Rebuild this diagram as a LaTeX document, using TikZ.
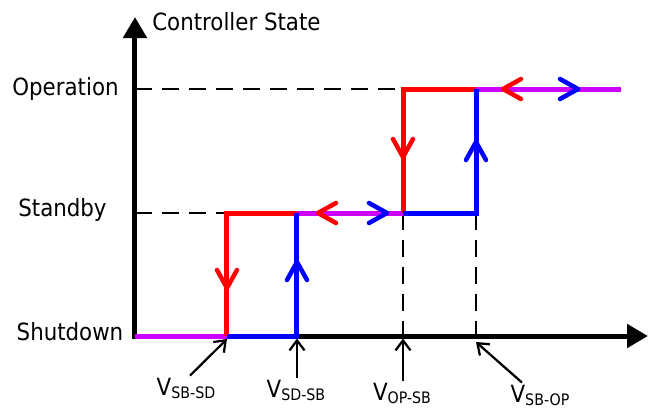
\documentclass[tikz,border=0pt]{standalone}
\usepackage{fontspec}
\setmainfont{DejaVu Sans Condensed}
\usetikzlibrary{arrows.meta}
\definecolor{statepurple}{RGB}{204,0,255}
\newcommand{\vlab}[1]{V\raisebox{-1.8pt}{\fontsize{9}{10}\selectfont #1}}
\tikzset{
    chev/.pic={\draw[line cap=round, line join=round] (-0.36,0.2) -- (0,0) -- (-0.36,-0.2);}
}
\begin{document}
\begin{tikzpicture}[every node/.style={font=\fontsize{13.5}{15}\selectfont, inner sep=0pt},
        axis/.style={line width=0.1cm, {Triangle[length=0.42cm,width=0.46cm]}-{Triangle[length=0.42cm,width=0.46cm]}},
        stateline/.style={line width=0.1cm},
        guide/.style={line width=0.045cm, dash pattern=on 0.34cm off 0.2cm},
        pointer/.style={line width=0.045cm, -{Straight Barb[length=0.2cm,width=0.3cm]}}]
    \useasboundingbox (-2.7,-1.44) rectangle (10.34,6.72);

    \coordinate (o) at (0,0);
    \coordinate (a0) at (1.84,0);
    \coordinate (b0) at (3.24,0);
    \coordinate (c0) at (5.36,0);
    \coordinate (d0) at (6.82,0);
    \coordinate (aS) at (1.84,2.46);
    \coordinate (bS) at (3.24,2.46);
    \coordinate (cS) at (5.36,2.46);
    \coordinate (dS) at (6.82,2.46);
    \coordinate (cO) at (5.36,4.94);
    \coordinate (dO) at (6.82,4.94);
    \coordinate (eO) at (9.72,4.94);

    \node[anchor=base west] (title) at (0.34,6.12) {Controller State};
    \node[anchor=base] (op) at (-1.39,4.82) {Operation};
    \node[anchor=base] (sb) at (-1.45,2.40) {Standby};
    \node[anchor=base] (sd) at (-1.30,-0.08) {Shutdown};

    \draw[guide] (0,4.94) -- (cO);
    \draw[guide] (0,2.46) -- (aS);
    \draw[guide] (cS) -- (c0);
    \draw[guide] (dS) -- (d0);

    \draw[axis] (0,6.38) -- (o) -- (10.26,0);

    \draw[stateline, statepurple] (o) -- (a0);
    \draw[stateline, statepurple] (bS) -- (cS);
    \draw[stateline, statepurple] (dO) -- (eO);
    \draw[stateline, red] (bS) -- (aS) -- (a0);
    \draw[stateline, red] (dO) -- (cO) -- (cS);
    \draw[stateline, blue] (a0) -- (b0) -- (bS);
    \draw[stateline, blue] (cS) -- (dS) -- (dO);

    \pic[red, line width=0.09cm, rotate=-90] at (1.84,0.96) {chev};
    \pic[blue, line width=0.09cm, rotate=90] at (3.24,1.48) {chev};
    \pic[red, line width=0.09cm, rotate=-90] at (5.36,3.58) {chev};
    \pic[blue, line width=0.09cm, rotate=90] at (6.82,3.88) {chev};
    \pic[red, line width=0.09cm, rotate=180] at (3.66,2.46) {chev};
    \pic[blue, line width=0.09cm] at (5.04,2.46) {chev};
    \pic[red, line width=0.09cm, rotate=180] at (7.36,4.94) {chev};
    \pic[blue, line width=0.09cm] at (8.86,4.94) {chev};

    \node[anchor=base, inner sep=1pt] (vsbsd) at (1.02,-1.18) {\vlab{SB-SD}};
    \node[anchor=base, inner sep=1pt] (vsdsb) at (3.22,-1.22) {\vlab{SD-SB}};
    \node[anchor=base, inner sep=1pt] (vopsb) at (5.34,-1.28) {\vlab{OP-SB}};
    \node[anchor=base, inner sep=1pt] (vsbop) at (8.10,-1.32) {\vlab{SB-OP}};

    \draw[pointer] ([xshift=0.08cm]vsbsd.north) -- ([yshift=-0.06cm]a0);
    \draw[pointer] (vsdsb.north -| b0) -- ([yshift=-0.05cm]b0);
    \draw[pointer] (vopsb.north -| c0) -- ([yshift=-0.05cm]c0);
    \draw[pointer] ([xshift=-0.36cm]vsbop.north) -- ([yshift=-0.12cm]d0);
\end{tikzpicture}
\end{document}
